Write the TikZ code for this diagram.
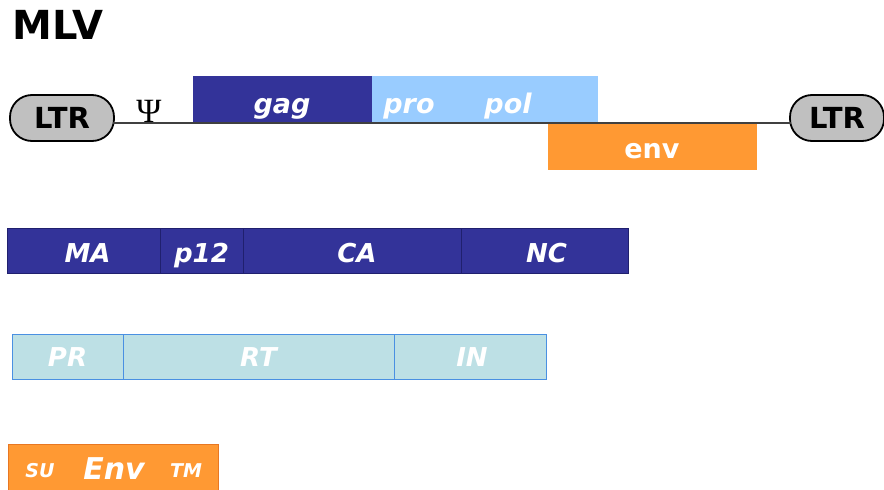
\documentclass[tikz,border=0pt]{standalone}
\usepackage{fontspec}
\setmainfont{DejaVu Sans}
\newfontfamily\psifont{Liberation Serif}
\definecolor{gagblue}{HTML}{333399}
\definecolor{gagline}{HTML}{20206E}
\definecolor{pollight}{HTML}{99CCFF}
\definecolor{envorange}{HTML}{FF9933}
\definecolor{envline}{HTML}{E87722}
\definecolor{polrow}{HTML}{BDE0E5}
\definecolor{polline}{HTML}{4A90E2}
\definecolor{ltrgray}{HTML}{C0C0C0}
\begin{document}
\begin{tikzpicture}[x=1pt,y=-1pt,
  ltr/.style={draw=black, line width=1.8pt, fill=ltrgray, rounded corners=22pt,
    minimum width=104pt, minimum height=46pt, inner sep=0pt,
    text height=21pt, text depth=0pt,
    font=\fontsize{29}{29}\selectfont\bfseries},
  bar/.style={anchor=north west, inner sep=0pt, outer sep=0pt, minimum height=46pt},
  cell/.style={anchor=north west, inner sep=0pt, outer sep=0pt, minimum height=45pt,
    text=white, text height=23pt, text depth=0pt,
    font=\fontsize{26}{26}\selectfont\bfseries\itshape},
  gagcell/.style={cell, fill=gagblue, draw=gagline, line width=0.8pt},
  polcell/.style={cell, fill=polrow, draw=polline, line width=1pt, text height=19pt},
  hlbl/.style={text=white, inner sep=0pt, font=\fontsize{27}{27}\selectfont\bfseries\itshape},
]
\useasboundingbox (0,0) rectangle (884,490);

% title
\node[anchor=base west, inner sep=0pt, font=\fontsize{40}{40}\selectfont\bfseries] (title) at (12,39) {MLV};

% genome line
\node[ltr] (ltrL) at (62,118) {LTR};
\node[ltr, minimum width=94pt] (ltrR) at (837,118) {LTR};
\coordinate (lineL) at (113,123);
\coordinate (lineR) at (791,123);
\draw[line width=1.2pt, black!75] (lineL) -- (lineR);
\node[anchor=base, inner sep=0pt, font=\psifont\fontsize{34}{34}\selectfont] (psi) at (149,122) {Ψ};

% genes
\node[bar, fill=gagblue, minimum width=179pt] (gag) at (193,76) {};
\node[bar, fill=pollight, minimum width=226pt] (pol) at (372,76) {};
\node[bar, fill=envorange, minimum width=209pt] (env) at (548,124) {};
\node[hlbl, anchor=base] (gagt) at (282,113) {gag};
\node[hlbl, anchor=base] (prot) at (409,113) {pro};
\node[hlbl, anchor=base] (polt) at (508,113) {pol};
\node[hlbl, anchor=base, font=\fontsize{27}{27}\selectfont\bfseries] (envt) at (652,158) {env};

% gag products
\node[gagcell, minimum width=153pt] (ma)  at (7,228)   {\hspace*{8pt}MA};
\node[gagcell, minimum width=83pt]  (p12) at (160,228) {p12};
\node[gagcell, minimum width=218pt] (ca)  at (243,228) {\hspace*{10pt}CA};
\node[gagcell, minimum width=167pt] (nc)  at (461,228) {\hspace*{4pt}NC};

% pol products
\node[polcell, minimum width=111pt] (pr) at (12,334)  {PR};
\node[polcell, minimum width=271pt] (rt) at (123,334) {RT};
\node[polcell, minimum width=152pt] (in) at (394,334) {\hspace*{4pt}IN};

% env products
\node[bar, fill=envorange, draw=envline, line width=1pt, minimum width=210pt, minimum height=47pt] (envp) at (8,444) {};
\node[anchor=base, text=white, inner sep=0pt, font=\fontsize{19}{19}\selectfont\bfseries\itshape] (su) at (40,477) {SU};
\node[anchor=base, text=white, inner sep=0pt, font=\fontsize{30}{30}\selectfont\bfseries\itshape] (envl) at (114,479) {Env};
\node[anchor=base, text=white, inner sep=0pt, font=\fontsize{19}{19}\selectfont\bfseries\itshape] (tm) at (186,477) {TM};
\end{tikzpicture}
\end{document}
